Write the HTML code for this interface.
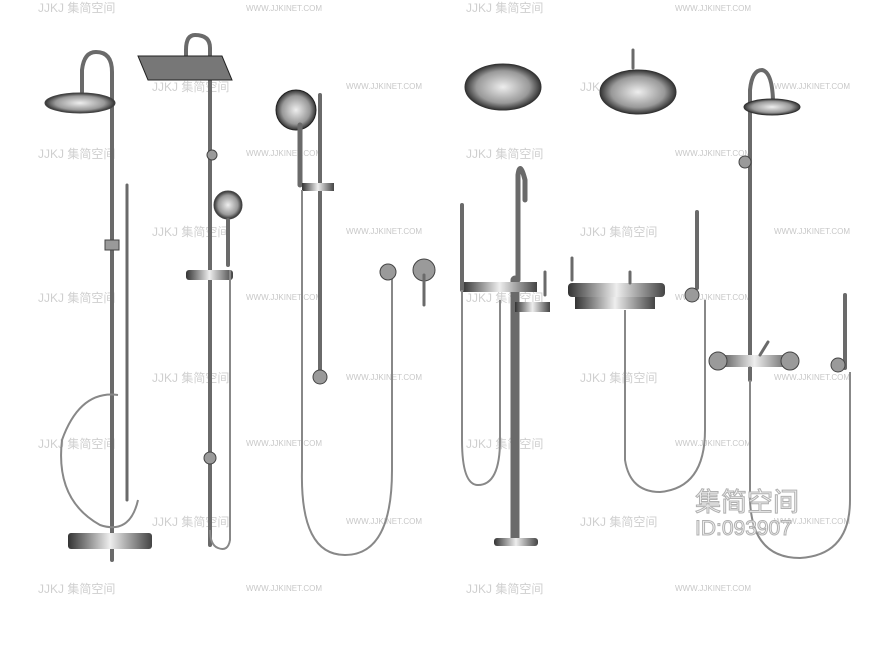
<!DOCTYPE html>
<html><head><meta charset="utf-8"><style>
html,body{margin:0;padding:0;background:#fff;}
svg{display:block}
.wm{font-family:"Liberation Sans","Noto Sans CJK SC",sans-serif;fill:#cfcfcf;font-size:12px}
.url{font-family:"Liberation Sans",sans-serif;fill:#c8c8c8;font-size:8px}
.p{stroke:#6a6a6a;fill:none;stroke-linecap:round}
.h{stroke:#888;fill:none;stroke-width:2}
.m{fill:#9a9a9a;stroke:#444;stroke-width:1}
</style></head><body>
<svg width="880" height="660" viewBox="0 0 880 660" xmlns="http://www.w3.org/2000/svg">
<defs>
<linearGradient id="c" x1="0" x2="1"><stop offset="0" stop-color="#333"/><stop offset=".5" stop-color="#eee"/><stop offset="1" stop-color="#444"/></linearGradient>
<radialGradient id="r"><stop offset="0" stop-color="#eee"/><stop offset=".7" stop-color="#999"/><stop offset="1" stop-color="#333"/></radialGradient>
</defs>
<g class="wm">
<text x="38" y="12">JJKJ 集简空间</text><text x="466" y="12">JJKJ 集简空间</text>
<text x="152" y="91">JJKJ 集简空间</text><text x="580" y="91">JJKJ 集简空间</text>
<text x="38" y="158">JJKJ 集简空间</text><text x="466" y="158">JJKJ 集简空间</text>
<text x="152" y="236">JJKJ 集简空间</text><text x="580" y="236">JJKJ 集简空间</text>
<text x="38" y="302">JJKJ 集简空间</text><text x="466" y="302">JJKJ 集简空间</text>
<text x="152" y="382">JJKJ 集简空间</text><text x="580" y="382">JJKJ 集简空间</text>
<text x="38" y="448">JJKJ 集简空间</text><text x="466" y="448">JJKJ 集简空间</text>
<text x="152" y="526">JJKJ 集简空间</text><text x="580" y="526">JJKJ 集简空间</text>
<text x="38" y="593">JJKJ 集简空间</text><text x="466" y="593">JJKJ 集简空间</text>
</g>
<g class="url">
<text x="246" y="11">WWW.JJKINET.COM</text><text x="675" y="11">WWW.JJKINET.COM</text>
<text x="346" y="89">WWW.JJKINET.COM</text><text x="774" y="89">WWW.JJKINET.COM</text>
<text x="246" y="156">WWW.JJKINET.COM</text><text x="675" y="156">WWW.JJKINET.COM</text>
<text x="346" y="234">WWW.JJKINET.COM</text><text x="774" y="234">WWW.JJKINET.COM</text>
<text x="246" y="300">WWW.JJKINET.COM</text><text x="675" y="300">WWW.JJKINET.COM</text>
<text x="346" y="380">WWW.JJKINET.COM</text><text x="774" y="380">WWW.JJKINET.COM</text>
<text x="246" y="446">WWW.JJKINET.COM</text><text x="675" y="446">WWW.JJKINET.COM</text>
<text x="346" y="524">WWW.JJKINET.COM</text><text x="774" y="524">WWW.JJKINET.COM</text>
<text x="246" y="591">WWW.JJKINET.COM</text><text x="675" y="591">WWW.JJKINET.COM</text>
</g>
<path class="p" stroke-width="4" d="M112 560V72Q112 52 96 52Q84 52 82 70V92"/>
<ellipse cx="80" cy="103" rx="35" ry="10" fill="url(#r)" stroke="#444"/>
<path class="p" stroke-width="3" d="M127 185V500"/>
<path class="h" d="M118 395Q80 390 62 440Q55 500 100 525Q130 535 138 500"/>
<rect x="68" y="533" width="84" height="16" rx="3" fill="url(#c)"/>
<rect x="105" y="240" width="14" height="10" class="m"/>
<path class="p" stroke-width="4" d="M210 545V48Q210 35 195 35Q186 35 186 50V58"/>
<path d="M138 56H222L232 80H148Z" fill="#777" stroke="#222"/>
<circle cx="212" cy="155" r="5" class="m"/>
<circle cx="228" cy="205" r="14" fill="url(#r)" stroke="#444"/>
<path class="p" stroke-width="4" d="M228 220V265"/>
<rect x="186" y="270" width="47" height="10" rx="3" fill="url(#c)"/>
<path class="h" d="M230 270V540Q228 552 218 548Q210 545 210 530"/>
<circle cx="210" cy="458" r="6" class="m"/>
<path class="p" stroke-width="4" d="M320 95V380"/>
<circle cx="320" cy="377" r="7" class="m"/>
<ellipse cx="296" cy="110" rx="20" ry="20" fill="url(#r)" stroke="#222"/>
<path class="p" stroke-width="5" d="M300 125V185"/>
<rect x="302" y="183" width="32" height="8" fill="url(#c)"/>
<path class="h" d="M302 190V470Q300 555 345 555Q392 555 392 470V278"/>
<circle cx="388" cy="272" r="8" class="m"/>
<circle cx="424" cy="270" r="11" class="m"/><path class="p" stroke-width="3" d="M424 275V305"/>
<ellipse cx="503" cy="87" rx="38" ry="23" fill="url(#r)" stroke="#333"/>
<ellipse cx="638" cy="92" rx="38" ry="22" fill="url(#r)" stroke="#333"/>
<path class="p" stroke-width="3" d="M633 68V50"/>
<path class="p" stroke-width="9" d="M515 540V280"/>
<path class="p" stroke-width="5" d="M518 280V175Q520 160 525 180V200"/>
<rect x="462" y="282" width="75" height="10" fill="url(#c)"/>
<rect x="515" y="302" width="35" height="10" fill="url(#c)"/>
<path class="p" stroke-width="3" d="M545 272V295"/>
<rect x="494" y="538" width="44" height="8" rx="3" fill="url(#c)"/>
<path class="p" stroke-width="4" d="M462 205V290"/>
<path class="h" d="M462 290V440Q462 485 478 485Q500 485 500 440V300"/>
<rect x="568" y="283" width="97" height="14" rx="4" fill="url(#c)"/>
<rect x="575" y="297" width="80" height="12" fill="url(#c)"/>
<path class="p" stroke-width="3" d="M572 258V280M630 283V272"/>
<path class="p" stroke-width="4" d="M697 212V288"/>
<circle cx="692" cy="295" r="7" class="m"/>
<path class="h" d="M625 310V460Q630 492 660 492Q705 488 705 430V300"/>
<path class="p" stroke-width="4" d="M750 380V90Q752 70 762 70Q772 72 773 100"/>
<ellipse cx="772" cy="107" rx="28" ry="8" fill="url(#r)" stroke="#333"/>
<circle cx="745" cy="162" r="6" class="m"/>
<rect x="712" y="355" width="85" height="12" rx="4" fill="url(#c)"/>
<circle cx="718" cy="361" r="9" class="m"/><circle cx="790" cy="361" r="9" class="m"/>
<path class="p" stroke-width="3" d="M760 355L768 342M750 368V380"/>
<path class="p" stroke-width="4" d="M845 295V368"/>
<circle cx="838" cy="365" r="7" class="m"/>
<path class="h" d="M750 380V500Q752 558 800 558Q850 555 850 500V372"/>
<g font-family="Liberation Sans,'Noto Sans CJK SC',sans-serif" fill="#f4f4f4" stroke="#b0b0b0" stroke-width="1">
<text x="695" y="511" font-size="26">集简空间</text>
<text x="695" y="535" font-size="21">ID:093907</text>
</g>
</svg>
</body></html>
